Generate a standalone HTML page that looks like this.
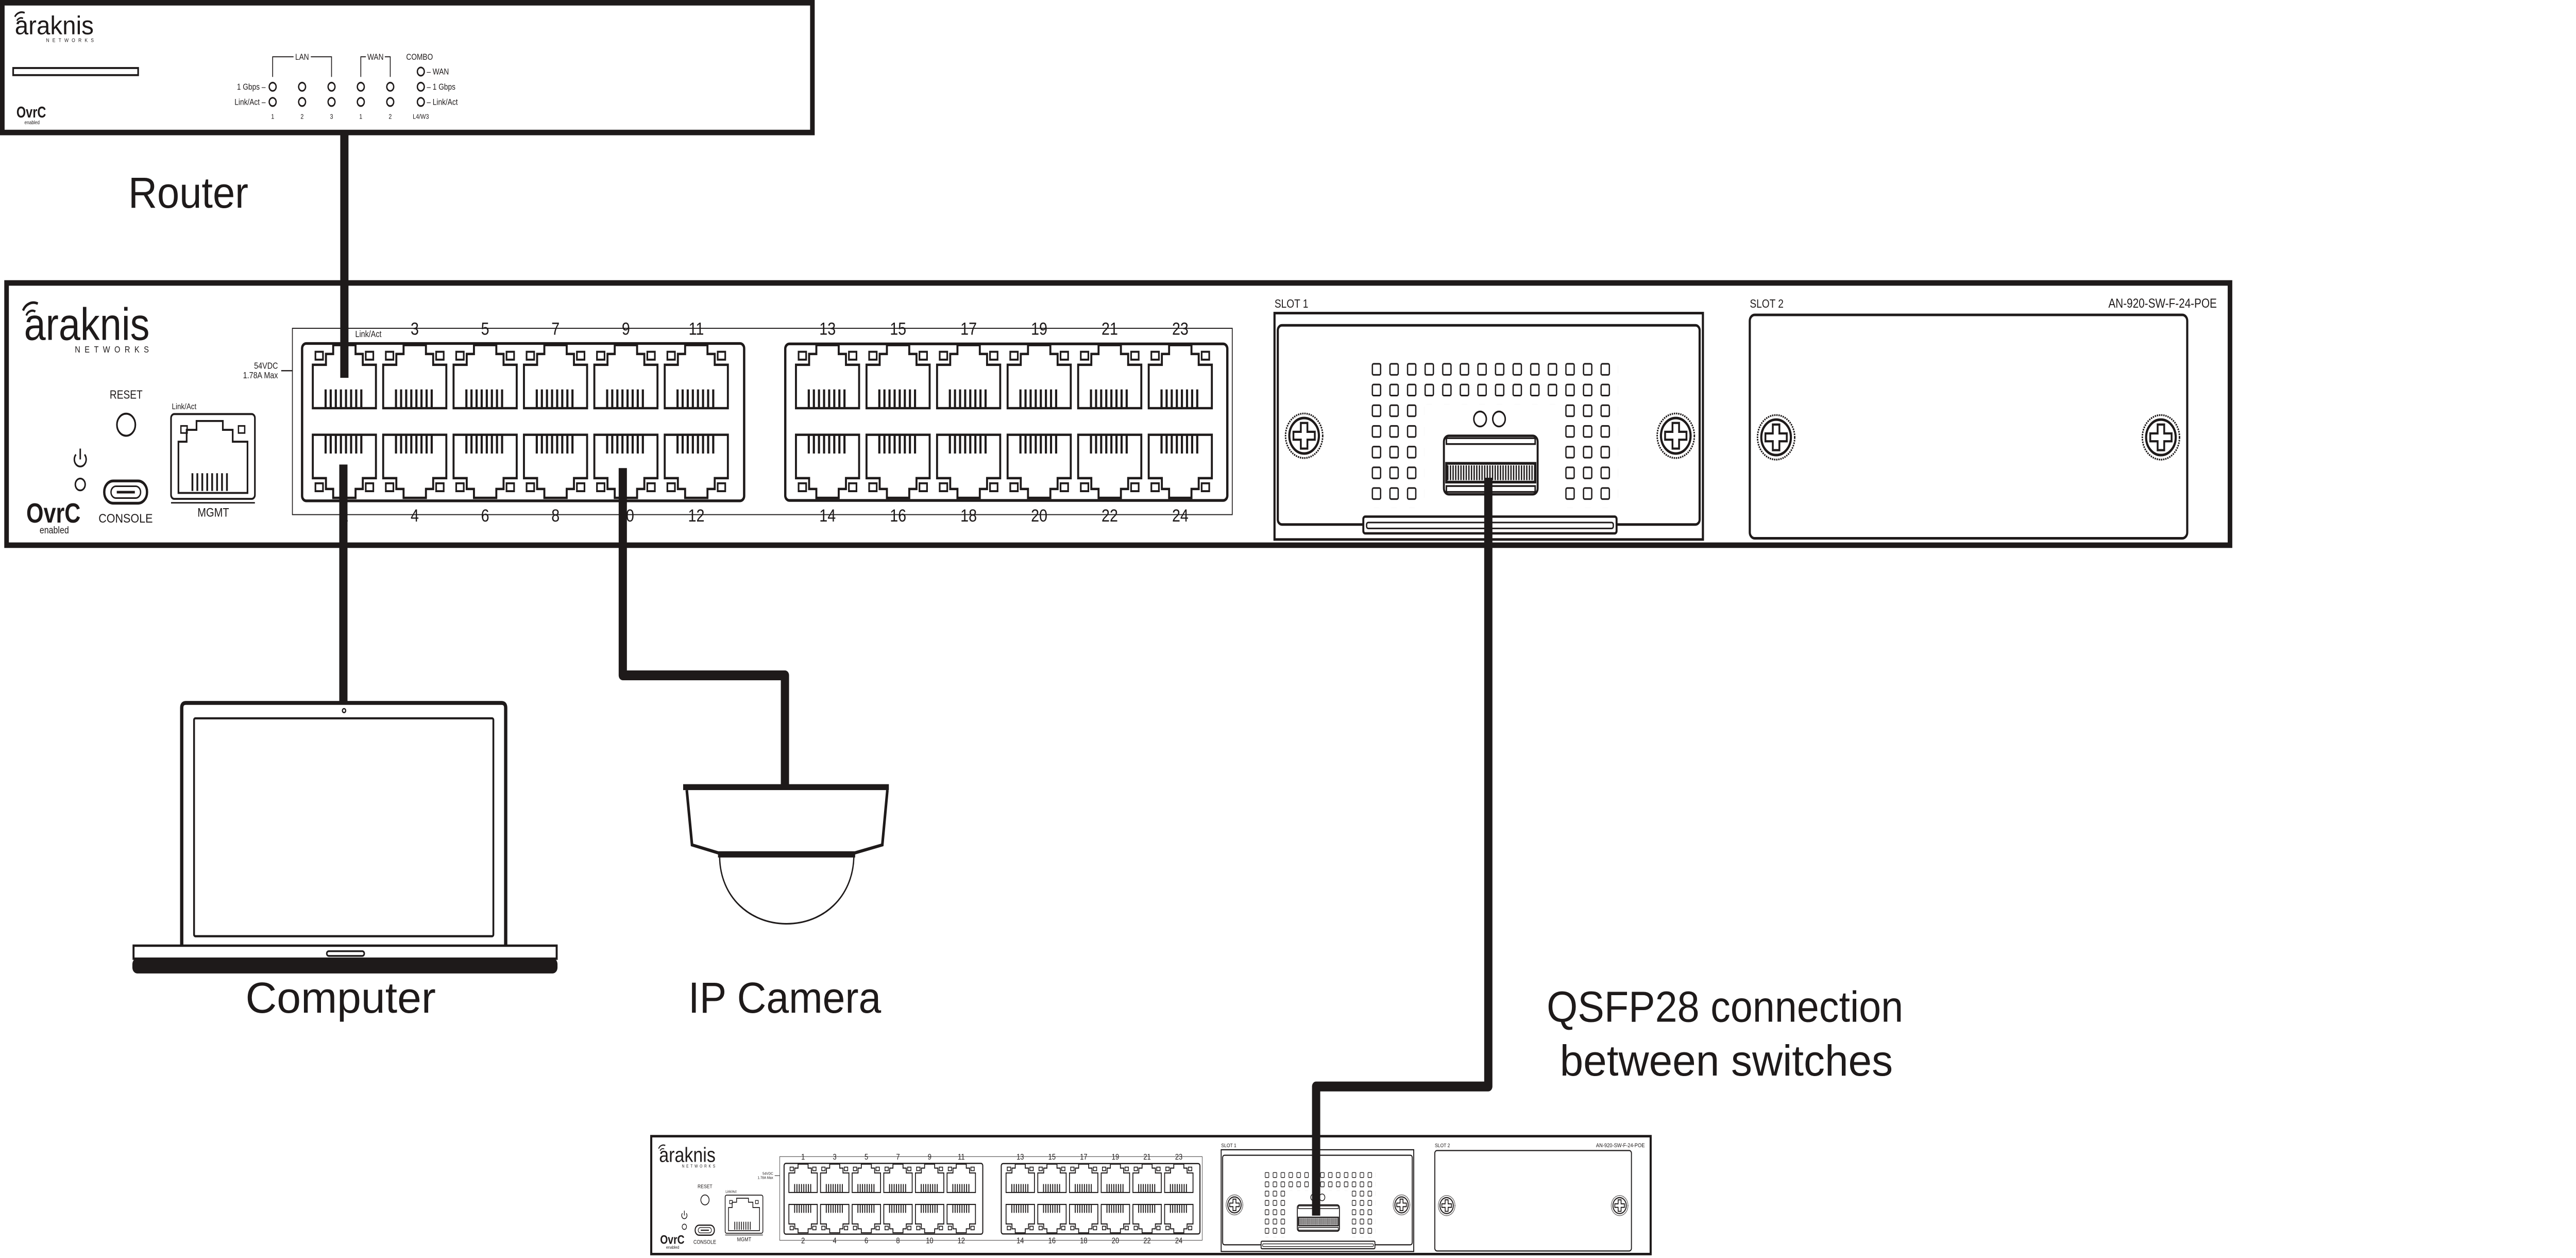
<!DOCTYPE html>
<html><head><meta charset="utf-8"><style>
html,body{margin:0;padding:0;background:#fff;width:100%;height:100%;overflow:hidden}
svg{display:block;width:100vw;height:100vh}
text{font-family:"Liberation Sans",sans-serif;fill:#1e1a1a}
</style></head><body>
<svg xmlns="http://www.w3.org/2000/svg" xmlns:xlink="http://www.w3.org/1999/xlink" viewBox="0 0 1566.4 638" preserveAspectRatio="none">
<defs>
<g id="pt" fill="none" stroke="#1e1a1a">
<path d="M0,10 H8 V4.5 H12.4 V0 H26 V4.5 H30.4 V10 H38.4 V32 H0 Z" stroke-width="1.2"/>
<rect x="1.6" y="3.4" width="4.6" height="4" stroke-width="1"/>
<rect x="32.2" y="3.4" width="4.6" height="4" stroke-width="1"/>
<path d="M7.8,22.5V31.5M10.9,22.5V31.5M14,22.5V31.5M17.1,22.5V31.5M20.2,22.5V31.5M23.3,22.5V31.5M26.4,22.5V31.5M29.5,22.5V31.5" stroke-width="1.3"/>
</g>
<g id="pb" fill="none" stroke="#1e1a1a">
<path d="M0,22 H8 V27.5 H12.4 V32 H26 V27.5 H30.4 V22 H38.4 V0 H0 Z" stroke-width="1.2"/>
<rect x="1.6" y="24.6" width="4.6" height="4" stroke-width="1"/>
<rect x="32.2" y="24.6" width="4.6" height="4" stroke-width="1"/>
<path d="M7.8,0.5V9.5M10.9,0.5V9.5M14,0.5V9.5M17.1,0.5V9.5M20.2,0.5V9.5M23.3,0.5V9.5M26.4,0.5V9.5M29.5,0.5V9.5" stroke-width="1.3"/>
</g>
<pattern id="vent" patternUnits="userSpaceOnUse" x="834" y="184" width="10.7" height="10.5">
<rect x="0.5" y="0.5" width="5" height="5.6" rx="0.8" fill="none" stroke="#1e1a1a" stroke-width="0.8"/>
</pattern>
<pattern id="teeth" patternUnits="userSpaceOnUse" x="880" y="236" width="1.6" height="9">
<rect x="0" y="0" width="0.8" height="9" fill="#1e1a1a"/>
</pattern>
<g id="screw">
<circle r="11.3" fill="#fff" stroke="#1e1a1a" stroke-width="0.9" stroke-dasharray="0.8 0.5"/>
<circle r="9" fill="none" stroke="#1e1a1a" stroke-width="1.3"/>
<path d="M-2,-6.5 H2 V-2 H6.5 V2 H2 V6.5 H-2 V2 H-6.5 V-2 H-2 Z" fill="none" stroke="#1e1a1a" stroke-width="1.1"/>
</g>
<g id="swS" fill="none" stroke="#1e1a1a">
<rect x="4" y="143.5" width="1352" height="133" stroke-width="2.8" fill="#fff"/>
<path d="M14,157.5 A7,7 0 0 1 23,154" stroke-width="1.3"/>
<path d="M16,160 A4,4 0 0 1 21.5,158" stroke-width="1.1"/>
<circle cx="76.7" cy="215.4" r="5.6" stroke-width="1"/>
<path d="M46.2,230.5 A3.6,3.6 0 1 0 51.4,230.5" stroke-width="0.9"/>
<line x1="48.8" y1="227.5" x2="48.8" y2="233" stroke-width="0.9"/>
<circle cx="48.8" cy="245.7" r="3" stroke-width="0.9"/>
<rect x="63.4" y="243.9" width="26" height="11.3" rx="5.5" stroke-width="1.4"/>
<rect x="67.5" y="246.6" width="18" height="6" rx="3" stroke-width="0.8"/>
<line x1="71" y1="249.6" x2="82" y2="249.6" stroke-width="1.3"/>
<rect x="104" y="210" width="51" height="43" rx="2" stroke-width="1"/>
<path d="M108.5,224 H113.5 V218 H119.5 V213.5 H135.5 V218 H141.5 V224 H150.5 V250 H108.5 Z" stroke-width="1"/>
<rect x="110" y="216" width="3.8" height="3.6" stroke-width="0.8"/>
<rect x="145" y="216" width="3.8" height="3.6" stroke-width="0.8"/>
<path d="M117,240V249M120,240V249M123,240V249M126,240V249M129,240V249M132,240V249M135,240V249M138,240V249" stroke-width="1.1"/>
<line x1="104" y1="255" x2="155" y2="255" stroke-width="0.7"/>
<line x1="171" y1="188" x2="178" y2="188" stroke-width="0.6"/>
<rect x="177.8" y="166.5" width="571.5" height="94.5" stroke-width="0.5"/>
<rect x="183.7" y="174.2" width="268.8" height="79.8" rx="2.5" stroke-width="1.4" fill="#fff"/>
<rect x="477.5" y="174.4" width="268.8" height="79.4" rx="2.5" stroke-width="1.4" fill="#fff"/>
<use href="#pt" x="190.2" y="175"/><use href="#pt" x="233" y="175"/><use href="#pt" x="275.8" y="175"/><use href="#pt" x="318.6" y="175"/><use href="#pt" x="361.4" y="175"/><use href="#pt" x="404.2" y="175"/>
<use href="#pt" x="484" y="175"/><use href="#pt" x="526.9" y="175"/><use href="#pt" x="569.8" y="175"/><use href="#pt" x="612.7" y="175"/><use href="#pt" x="655.6" y="175"/><use href="#pt" x="698.5" y="175"/>
<use href="#pb" x="190.2" y="220.5"/><use href="#pb" x="233" y="220.5"/><use href="#pb" x="275.8" y="220.5"/><use href="#pb" x="318.6" y="220.5"/><use href="#pb" x="361.4" y="220.5"/><use href="#pb" x="404.2" y="220.5"/>
<use href="#pb" x="484" y="220.5"/><use href="#pb" x="526.9" y="220.5"/><use href="#pb" x="569.8" y="220.5"/><use href="#pb" x="612.7" y="220.5"/><use href="#pb" x="655.6" y="220.5"/><use href="#pb" x="698.5" y="220.5"/>
<rect x="775" y="158.8" width="260.5" height="114.8" stroke-width="1.3"/>
<rect x="777" y="165" width="256.5" height="101" rx="2.5" stroke-width="1.3"/>
<rect x="829" y="262" width="154" height="8.5" rx="1.2" stroke-width="1.2" fill="#fff"/>
<rect x="831" y="265" width="150" height="3" rx="1" stroke-width="0.8"/>
<use href="#screw" x="793" y="221"/>
<use href="#screw" x="1019" y="221"/>
<rect x="834" y="184" width="149.8" height="21" fill="url(#vent)" stroke="none"/>
<rect x="834" y="205" width="32.1" height="52.5" fill="url(#vent)" stroke="none"/>
<rect x="951.7" y="205" width="32.1" height="52.5" fill="url(#vent)" stroke="none"/>
<circle cx="900" cy="212.5" r="3.8" stroke-width="0.9"/>
<circle cx="911.5" cy="212.5" r="3.8" stroke-width="0.9"/>
<rect x="878" y="221" width="57" height="29.7" rx="3" stroke-width="1.2" fill="#fff"/>
<rect x="879.5" y="222.2" width="54" height="3" stroke-width="0.9"/>
<rect x="879.5" y="235" width="54" height="9.5" stroke-width="1.4"/>
<rect x="880" y="236" width="53" height="7.5" fill="url(#teeth)" stroke="none"/>
<rect x="879.5" y="246.5" width="54" height="3" stroke-width="0.9"/>
<rect x="1064" y="159.7" width="266" height="113.3" rx="3" stroke-width="1.3"/>
<use href="#screw" x="1080" y="221.8"/>
<use href="#screw" x="1314" y="221.8"/>
</g>
</defs>

<g fill="none" stroke="#1e1a1a">
<rect x="1.4" y="1.4" width="492.6" height="65.8" stroke-width="2.8"/>
<rect x="8" y="34.5" width="76" height="3.6" stroke-width="1"/>
<path d="M9,8.5 A5,5 0 0 1 15,6.5" stroke-width="0.9"/>
<path d="M10.3,10.5 A3,3 0 0 1 14,9.3" stroke-width="0.8"/>
<path d="M165.8,39 V28.8 H178.5 M189,28.8 H201.6 V39 M219.4,39 V28.8 H222.5 M234,28.8 H237.3 V39" stroke-width="0.5"/>
<g stroke-width="0.8">
<circle cx="165.8" cy="44" r="2.1"/><circle cx="183.7" cy="44" r="2.1"/><circle cx="201.6" cy="44" r="2.1"/><circle cx="219.4" cy="44" r="2.1"/><circle cx="237.3" cy="44" r="2.1"/><circle cx="255.9" cy="44" r="2.1"/>
<circle cx="165.8" cy="51.7" r="2.1"/><circle cx="183.7" cy="51.7" r="2.1"/><circle cx="201.6" cy="51.7" r="2.1"/><circle cx="219.4" cy="51.7" r="2.1"/><circle cx="237.3" cy="51.7" r="2.1"/><circle cx="255.9" cy="51.7" r="2.1"/>
<circle cx="255.9" cy="36.3" r="2.1"/>
</g>
</g>
<g>
<text x="9" y="17.4" font-size="13" textLength="48" lengthAdjust="spacingAndGlyphs">araknis</text>
<text x="28" y="21.3" font-size="2.7" textLength="29" lengthAdjust="spacing">NETWORKS</text>
<text x="10" y="59.6" font-size="8" font-weight="bold" textLength="18" lengthAdjust="spacingAndGlyphs">OvrC</text>
<text x="19.5" y="63" font-size="2.6" text-anchor="middle">enabled</text>
<text x="183.7" y="30.3" font-size="4.3" text-anchor="middle">LAN</text>
<text x="228.3" y="30.3" font-size="4.3" text-anchor="middle">WAN</text>
<text x="247" y="30.3" font-size="4.3">COMBO</text>
<text x="161.5" y="45.5" font-size="4.3" text-anchor="end">1 Gbps –</text>
<text x="161.5" y="53.2" font-size="4.3" text-anchor="end">Link/Act –</text>
<text x="259.5" y="37.8" font-size="4.3">– WAN</text>
<text x="259.5" y="45.5" font-size="4.3">– 1 Gbps</text>
<text x="259.5" y="53.2" font-size="4.3">– Link/Act</text>
<g font-size="3.4" text-anchor="middle">
<text x="165.8" y="60.3">1</text><text x="183.7" y="60.3">2</text><text x="201.6" y="60.3">3</text><text x="219.4" y="60.3">1</text><text x="237.3" y="60.3">2</text><text x="255.9" y="60.3">L4/W3</text>
</g>
</g>

<use href="#swS"/>
<g>
<text x="14.6" y="172.4" font-size="23" textLength="76.4" lengthAdjust="spacingAndGlyphs">araknis</text>
<text x="45.5" y="178.8" font-size="4.6" textLength="45" lengthAdjust="spacing">NETWORKS</text>
<text x="76.7" y="202.2" font-size="6" text-anchor="middle">RESET</text>
<text x="76.4" y="265" font-size="6.3" text-anchor="middle" textLength="33" lengthAdjust="spacingAndGlyphs">CONSOLE</text>
<text x="104.5" y="207.5" font-size="4.2">Link/Act</text>
<text x="129.7" y="262" font-size="6.3" text-anchor="middle">MGMT</text>
<text x="16" y="265" font-size="14" font-weight="bold" textLength="33" lengthAdjust="spacingAndGlyphs">OvrC</text>
<text x="33" y="270.5" font-size="5" text-anchor="middle">enabled</text>
<text x="169" y="187" font-size="4.5" text-anchor="end">54VDC</text>
<text x="169" y="191.8" font-size="4.5" text-anchor="end">1.78A Max</text>
<text x="216" y="171" font-size="4.5">Link/Act</text>
<g font-size="9" text-anchor="middle">
<text x="209.4" y="169.8">1</text><text x="252.2" y="169.8">3</text><text x="295" y="169.8">5</text><text x="337.8" y="169.8">7</text><text x="380.6" y="169.8">9</text><text x="423.4" y="169.8">11</text>
<text x="503.2" y="169.8">13</text><text x="546.1" y="169.8">15</text><text x="589" y="169.8">17</text><text x="631.9" y="169.8">19</text><text x="674.8" y="169.8">21</text><text x="717.7" y="169.8">23</text>
<text x="209.4" y="264.5">2</text><text x="252.2" y="264.5">4</text><text x="295" y="264.5">6</text><text x="337.8" y="264.5">8</text><text x="380.6" y="264.5">10</text><text x="423.4" y="264.5">12</text>
<text x="503.2" y="264.5">14</text><text x="546.1" y="264.5">16</text><text x="589" y="264.5">18</text><text x="631.9" y="264.5">20</text><text x="674.8" y="264.5">22</text><text x="717.7" y="264.5">24</text>
</g>
<text x="775" y="156" font-size="6">SLOT 1</text>
<text x="1064" y="156" font-size="6">SLOT 2</text>
<text x="1348" y="156" font-size="6.5" text-anchor="end">AN-920-SW-F-24-POE</text>
</g>

<g transform="translate(396,576) scale(0.4495) translate(-4,-143)">
<use href="#swS"/>
<text x="14.6" y="172.4" font-size="23" textLength="76.4" lengthAdjust="spacingAndGlyphs">araknis</text>
<text x="45.5" y="178.8" font-size="4.6" textLength="45" lengthAdjust="spacing">NETWORKS</text>
<text x="76.7" y="202.2" font-size="6" text-anchor="middle">RESET</text>
<text x="76.4" y="265" font-size="6.3" text-anchor="middle">CONSOLE</text>
<text x="104.5" y="207.5" font-size="4.2">Link/Act</text>
<text x="129.7" y="262" font-size="6.3" text-anchor="middle">MGMT</text>
<text x="16" y="265" font-size="14" font-weight="bold" textLength="33" lengthAdjust="spacingAndGlyphs">OvrC</text>
<text x="33" y="270.5" font-size="5" text-anchor="middle">enabled</text>
<text x="169" y="187" font-size="4.5" text-anchor="end">54VDC</text>
<text x="169" y="191.8" font-size="4.5" text-anchor="end">1.78A Max</text>
<g font-size="9" text-anchor="middle">
<text x="209.4" y="169.8">1</text><text x="252.2" y="169.8">3</text><text x="295" y="169.8">5</text><text x="337.8" y="169.8">7</text><text x="380.6" y="169.8">9</text><text x="423.4" y="169.8">11</text>
<text x="503.2" y="169.8">13</text><text x="546.1" y="169.8">15</text><text x="589" y="169.8">17</text><text x="631.9" y="169.8">19</text><text x="674.8" y="169.8">21</text><text x="717.7" y="169.8">23</text>
<text x="209.4" y="264.5">2</text><text x="252.2" y="264.5">4</text><text x="295" y="264.5">6</text><text x="337.8" y="264.5">8</text><text x="380.6" y="264.5">10</text><text x="423.4" y="264.5">12</text>
<text x="503.2" y="264.5">14</text><text x="546.1" y="264.5">16</text><text x="589" y="264.5">18</text><text x="631.9" y="264.5">20</text><text x="674.8" y="264.5">22</text><text x="717.7" y="264.5">24</text>
</g>
<text x="775" y="156" font-size="6">SLOT 1</text>
<text x="1064" y="156" font-size="6">SLOT 2</text>
<text x="1348" y="156" font-size="6.5" text-anchor="end">AN-920-SW-F-24-POE</text>
</g>

<g fill="none" stroke="#1e1a1a">
<path d="M110.5,479.6 V359 Q110.5,356.5 113,356.5 H305 Q307.5,356.5 307.5,359 V479.6" stroke-width="2"/>
<rect x="118" y="364.3" width="182" height="110.5" rx="0.8" stroke-width="1.1"/>
<circle cx="209.2" cy="360.4" r="1" stroke-width="0.7"/>
<rect x="81.2" y="479.6" width="257.3" height="6.6" stroke-width="1.2" fill="#fff"/>
<rect x="198.7" y="482.4" width="22.8" height="2.4" rx="1.2" stroke-width="0.9"/>
</g>
<rect x="80.5" y="486" width="258.5" height="7.7" rx="3" fill="#1e1a1a"/>

<g fill="none" stroke="#1e1a1a">
<rect x="415.4" y="397.7" width="125.1" height="3" fill="#1e1a1a" stroke="none"/>
<path d="M417.6,400.7 L420.8,428.5 L436.6,432.5 H520 L536.5,428.5 L539.6,400.7" stroke-width="1.6"/>
<line x1="436.6" y1="433.6" x2="520" y2="433.6" stroke-width="2.6"/>
<path d="M437.6,434.8 C438,455 456,468.5 478.3,468.5 C500.6,468.5 518.5,455 519.2,434.8" stroke-width="0.8"/>
</g>

<g fill="none" stroke="#1e1a1a" stroke-width="5" stroke-linejoin="round">
<path d="M209.4,67 V191.6"/>
<path d="M208.8,235.6 V356.5"/>
<path d="M378.7,237.4 V342.5 H477.3 V398"/>
<path d="M905,242.3 V551 H800.3 V616.5"/>
</g>

<g font-size="22">
<text x="78" y="105.4" textLength="73" lengthAdjust="spacingAndGlyphs">Router</text>
<text x="149.3" y="513.6" textLength="115.7" lengthAdjust="spacingAndGlyphs">Computer</text>
<text x="418.5" y="513.6" textLength="117.3" lengthAdjust="spacingAndGlyphs">IP Camera</text>
<text x="940.5" y="518.2" textLength="216.8" lengthAdjust="spacingAndGlyphs">QSFP28 connection</text>
<text x="948.5" y="545.5" textLength="202.5" lengthAdjust="spacingAndGlyphs">between switches</text>
</g>
</svg>
</body></html>
